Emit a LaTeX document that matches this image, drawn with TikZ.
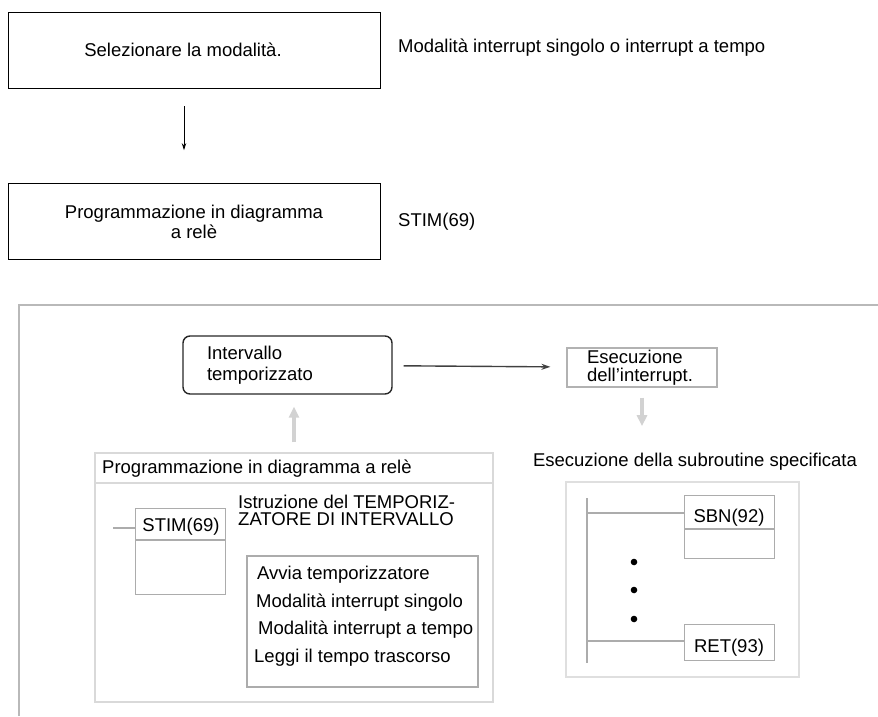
\documentclass[tikz,border=0pt]{standalone}
\usepackage{fontspec}
\setmainfont{Liberation Sans}
\usetikzlibrary{arrows.meta}

\begin{document}
\begin{tikzpicture}[x=1pt,y=-1pt,
  every node/.style={font=\fontsize{18.5}{20}\selectfont, inner sep=0pt},
  stepbox/.style={draw=black, line width=0.8pt, minimum width=372pt,
    minimum height=76pt, align=center},
  instr/.style={draw=gray!65, line width=1.2pt},
  framebox/.style={draw=gray!30, line width=1.5pt},
  blackarr/.style={-{Stealth[length=7pt,width=4.5pt]}, line width=0.8pt},
  darkarr/.style={-{Stealth[length=9pt,width=6pt]}, line width=1.4pt, black!75},
  grayarr/.style={-{Triangle[length=11pt,width=10pt]}, line width=3.5pt, gray!35}]

% ------------------------------------------------------------------
% Page size of the reference: 878 x 716 px, y grows downwards.
% ------------------------------------------------------------------
\useasboundingbox (0,0) rectangle (878,716);

% Instruction block: \instrbox{name}{x}{y}{width}{height}
\newcommand{\instrbox}[5]{%
  \node[instr, anchor=north west, minimum width=#4pt, minimum height=#5pt]
    (#1) at (#2,#3) {};
}

% Upper flow: two steps with their notes.
\node[stepbox] (sel) at (194,50) {\hspace*{-22pt}Selezionare la modalità.};
\node[stepbox] (prog) at (194,221.5)
  {Programmazione in diagramma\\a relè};
\node[anchor=west] (modnote) at (398,48)
  {Modalità interrupt singolo o interrupt a tempo};
\node[anchor=west] (stimnote) at (398,222) {STIM(69)};
\draw[blackarr, shorten <=18pt, shorten >=33pt]
  ([xshift=-10pt]sel.south) -- ([xshift=-10pt]prog.north);

% Open grey frame round the lower part.
\draw[gray!55, line width=2pt] (19,716) -- (19,305) -- (878,305);

% Timer and interrupt.
\node[draw=black!85, line width=1.4pt, rounded corners=7pt,
  minimum width=209pt, minimum height=58pt, inner xsep=24pt,
  text width=161pt, align=left, font=\fontsize{18.5}{21}\selectfont]
  (intv) at (287.5,365) {Intervallo\\temporizzato};
\node[draw=gray!60, line width=1.2pt, minimum width=150pt,
  minimum height=39pt, inner xsep=20pt, text width=110pt, align=left,
  font=\fontsize{18.5}{18}\selectfont]
  (exec) at (642,367.5) {Esecuzione\\dell’interrupt.};
\draw[darkarr, shorten <=11pt, shorten >=16pt] (intv) -- (exec);

% Left: ladder program with STIM(69).
\node[framebox, minimum width=398pt, minimum height=249pt]
  (ladder) at (294,577.5) {};
\draw[gray!30, line width=1.5pt] (95,483) -- (493,483);
\node[anchor=west] (ladhead) at (102,469)
  {Programmazione in diagramma a relè};
\node[anchor=west, align=left, font=\fontsize{18.5}{17}\selectfont]
  (istr) at (238,510) {Istruzione del TEMPORIZ-\\ZATORE DI INTERVALLO};
\instrbox{stim}{135}{508}{90}{86}
\draw[gray!65, line width=1.2pt] (135,540) -- (225,540);
\node (stimlbl) at (181,527) {STIM(69)};
\coordinate (stimin) at (113,528);
\draw[gray!65, line width=1.2pt] (stimin) -- (stimin -| stim.west);
\node[draw=gray!65, line width=1.3pt, minimum width=231pt,
  minimum height=131pt] (modes) at (362.5,621.5) {};
\node[anchor=west] (m1) at (257,575) {Avvia temporizzatore};
\node[anchor=west] (m2) at (256,603) {Modalità interrupt singolo};
\node[anchor=west] (m3) at (258,630) {Modalità interrupt a tempo};
\node[anchor=west] (m4) at (254,658) {Leggi il tempo trascorso};
\draw[grayarr, shorten <=10pt, shorten >=12pt]
  (ladder.north) -- (ladder.north |- intv.south);

% Right: subroutine SBN(92) ... RET(93).
\node (subt) at (695,462) {Esecuzione della subroutine specificata};
\draw[grayarr, shorten <=10pt, shorten >=27pt]
  (exec.south) -- (exec.south |- subt.north);
\node[framebox, draw=gray!25, minimum width=233pt, minimum height=195pt]
  (subbox) at (682.5,579.5) {};
\coordinate (bartop) at (587,498);
\coordinate (barbot) at (587,663);
\draw[gray!65, line width=1.3pt] (bartop) -- (barbot);
\instrbox{sbn}{684}{495}{90}{63}
\draw[gray!65, line width=1.2pt] (684,529) -- (774,529);
\node (sbnlbl) at (729,518) {SBN(92)};
\instrbox{ret}{684}{624}{90}{36}
\node (retlbl) at (729,648) {RET(93)};
\draw[gray!65, line width=1.2pt] (bartop |- 0,513) -- (bartop |- 0,513 -| sbn.west);
\draw[gray!65, line width=1.2pt] (barbot |- 0,641) -- (barbot |- 0,641 -| ret.west);
\foreach \d in {562,590,619}
  \fill[black] (634,\d) circle (3.3pt);

\end{tikzpicture}
\end{document}
